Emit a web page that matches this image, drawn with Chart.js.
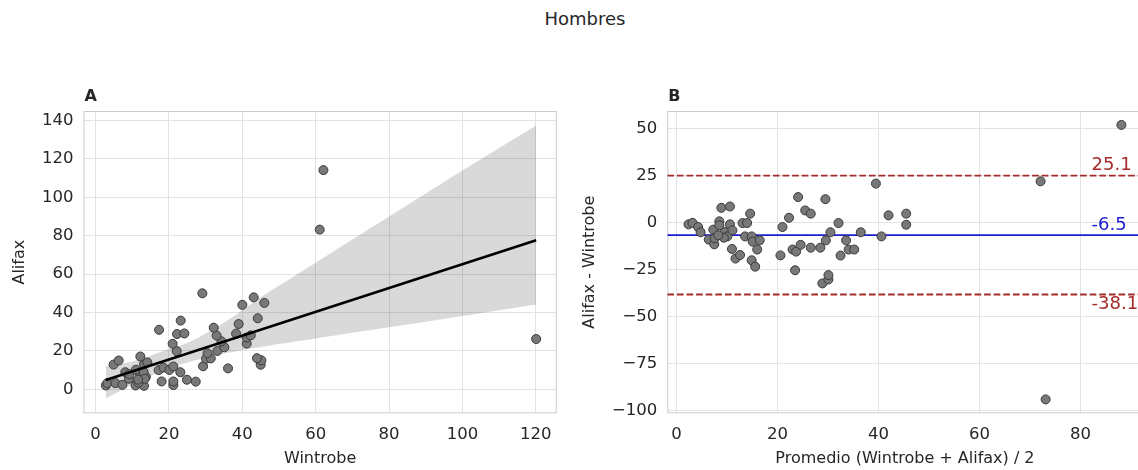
<!DOCTYPE html>
<html>
<head>
<meta charset="utf-8">
<script src="https://cdn.jsdelivr.net/npm/chart.js@4.4.1/dist/chart.umd.min.js"></script>
<style>
  html, body { margin: 0; padding: 0; background: #fff; overflow: hidden; width: 1138px; height: 470px; }
  #suptitle { position: absolute; left: 0; top: 8px; width: 1170px; text-align: center;
              font: 18px "DejaVu Sans"; color: #262626; }
  .panel { position: absolute; top: 80px; }
</style>
</head>
<body>
<div id="suptitle">Hombres</div>
<div class="panel" style="left:0px"><canvas id="chartA" width="570" height="390"></canvas></div>
<div class="panel" style="left:570px"><canvas id="chartB" width="580" height="390"></canvas></div>
<script>
// panel A: Wintrobe vs Alifax
const wintrobe = [2.8, 3.2, 5.4, 7.3, 10.9, 13.2, 11.7, 9.1, 8.1, 9.2, 4.9, 6.3, 12.1, 13.7, 11.0, 13.1, 13.4, 11.6, 18.0, 21.2,
  21.2, 13.2, 14.1, 12.2, 17.2, 18.5, 20.1, 21.2, 23.1, 24.9, 27.3, 22.1, 29.3, 21.0, 30.1, 31.4, 30.5, 36.1, 17.3, 22.2,
  24.2, 33.2, 35.1, 23.2, 34.3, 33.0, 45.0, 45.2, 44.0, 32.2, 41.2, 38.3, 41.2, 42.3, 39.0, 29.1, 44.2, 40.0, 43.1, 46.0,
  61.1, 120.1, 62.1];
const alifax = [2.0, 3.2, 3.2, 2.3, 2.0, 1.8, 3.5, 5.5, 8.9, 7.9, 12.9, 15.0, 7.2, 6.5, 10.2, 9.1, 5.5, 5.0, 4.1, 2.2,
  4.1, 13.1, 14.0, 17.1, 10.0, 11.3, 10.1, 11.9, 8.9, 5.0, 4.0, 19.9, 12.0, 23.7, 15.9, 16.1, 18.8, 10.9, 31.0, 28.8,
  29.1, 20.0, 21.9, 35.8, 25.0, 28.0, 12.8, 15.1, 16.2, 32.1, 23.8, 29.0, 27.0, 28.1, 34.0, 50.0, 37.0, 44.0, 47.9, 45.0,
  83.2, 26.2, 114.2];

// regression line and confidence band
const fitX = [2.8, 120.1];
const fitY = [4.9, 77.7];
const bandX = [2.8, 10, 20, 26, 36, 45, 60, 80, 100, 120.1];
const bandUpper = [12, 14.5, 21, 25, 36, 48, 66, 90, 114, 137.5];
const bandLower = [-4.8, 2.5, 11, 14.5, 19, 22.1, 26.5, 32.3, 38.2, 44.2];

// panel B: Bland-Altman
const promedio = [2.4, 3.2, 4.3, 4.8, 6.4, 7.5, 7.6, 7.3, 8.5, 8.5, 8.9, 10.6, 9.6, 10.1, 10.6, 11.1, 9.4, 8.3, 11.0, 11.7,
  12.6, 13.1, 14.0, 14.6, 13.6, 14.9, 15.1, 16.5, 16.0, 14.9, 15.6, 21.0, 20.6, 22.3, 23.0, 23.7, 24.6, 23.5, 24.1, 25.5,
  26.6, 26.6, 28.5, 29.5, 29.6, 30.5, 28.9, 30.1, 30.1, 32.1, 32.5, 33.6, 34.1, 35.2, 36.5, 39.5, 40.6, 42.0, 45.5, 45.5,
  72.1, 73.1, 88.1];
const diferencia = [-0.8, 0.0, -2.2, -5.0, -8.9, -11.4, -8.2, -3.6, 0.8, -1.3, 8.0, 8.7, -4.9, -7.2, -0.8, -4.0, -7.9, -6.6, -13.9, -19.0,
  -17.1, -0.1, -0.1, 4.9, -7.2, -7.2, -10.0, -9.3, -14.2, -19.9, -23.3, -2.2, -17.3, 2.7, -14.2, -15.3, -11.7, -25.2, 13.7, 6.6,
  4.9, -13.2, -13.2, 12.6, -9.3, -5.0, -32.2, -30.1, -27.8, -0.1, -17.4, -9.3, -14.2, -14.2, -5.0, 20.9, -7.2, 4.0, 4.9, -1.0,
  22.1, -93.9, 52.1];
const limitValues = [25.1, -6.5, -38.1];
const limitLabels = ['25.1', '-6.5', '-38.1'];
const limitColors = ['#a52a2a', '#1c1cd0', '#a52a2a'];

const FONT = '"DejaVu Sans", sans-serif';
const INK = '#262626';

const frame = {
  id: 'frame',
  beforeDatasetsDraw(chart, args, opts) {
    const { ctx, chartArea: a } = chart;
    ctx.save();
    ctx.strokeStyle = '#cccccc';
    ctx.lineWidth = 1;
    ctx.strokeRect(a.left + 0.5, a.top + 0.5, a.width - 1, a.height - 1);
    ctx.fillStyle = INK;
    ctx.font = 'bold 16px ' + FONT;
    ctx.textBaseline = 'bottom';
    ctx.textAlign = 'left';
    ctx.fillText(opts.label, a.left + 1, a.top - 6);
    ctx.restore();
  }
};

const limitText = {
  id: 'limitText',
  afterDatasetsDraw(chart) {
    const { ctx, scales } = chart;
    ctx.save();
    ctx.font = '18px ' + FONT;
    ctx.textAlign = 'left';
    limitValues.forEach((v, i) => {
      const x = scales.x.getPixelForValue(82.2);
      const y = scales.y.getPixelForValue(v);
      ctx.fillStyle = limitColors[i];
      if (i === 2) { ctx.textBaseline = 'top'; ctx.fillText(limitLabels[i], x, y + 1); }
      else { ctx.textBaseline = 'bottom'; ctx.fillText(limitLabels[i], x, y - 1); }
    });
    ctx.restore();
  }
};

function axis(min, max, step, title, fitSize, horizontal, fmt) {
  return {
    type: 'linear', min: min, max: max,
    ticks: {
      stepSize: step, includeBounds: false, color: INK, padding: horizontal ? 12 : 10,
      font: { family: FONT, size: 16.5 },
      callback: fmt || (v => String(v))
    },
    grid: { color: '#e3e3e3', lineWidth: 1, drawTicks: false },
    border: { display: false },
    title: { display: true, text: title, color: INK, font: { family: FONT, size: 16 },
             padding: horizontal ? { top: 0, bottom: 2 } : { top: 10, bottom: 0 } },
    afterFit(scale) { if (horizontal) scale.height = fitSize; else scale.width = fitSize; }
  };
}

const pointStyle = {
  type: 'scatter', showLine: false, pointRadius: 4.5, pointHoverRadius: 4.5,
  backgroundColor: '#787878', borderColor: '#3a3a3a', pointBorderWidth: 1, order: 1
};

new Chart(document.getElementById('chartA'), {
  type: 'scatter',
  data: {
    datasets: [
      Object.assign({}, pointStyle, { data: wintrobe.map((w, i) => ({ x: w, y: alifax[i] })) }),
      { type: 'line', data: fitX.map((x, i) => ({ x: x, y: fitY[i] })), borderColor: '#000', borderWidth: 2.6,
        pointRadius: 0, order: 0 },
      { type: 'line', data: bandX.map((x, i) => ({ x: x, y: bandUpper[i] })), borderWidth: 0, pointRadius: 0,
        fill: '+1', backgroundColor: 'rgba(0,0,0,0.15)', tension: 0.3, order: 2 },
      { type: 'line', data: bandX.map((x, i) => ({ x: x, y: bandLower[i] })), borderWidth: 0, pointRadius: 0,
        fill: false, tension: 0.3, order: 3 }
    ]
  },
  options: {
    responsive: false, animation: false, events: [],
    layout: { padding: { top: 31, right: 13.3, left: 0, bottom: 0 } },
    plugins: { legend: { display: false }, tooltip: { enabled: false }, frame: { label: 'A' } },
    scales: {
      x: axis(-3.3, 125.7, 20, 'Wintrobe', 56.7, true),
      y: axis(-12.5, 145, 20, 'Alifax', 83.5, false)
    }
  },
  plugins: [frame]
});

const minus = v => (v < 0 ? '\u2212' + Math.abs(v) : String(v));

new Chart(document.getElementById('chartB'), {
  type: 'scatter',
  data: {
    datasets: [
      Object.assign({}, pointStyle, { data: promedio.map((m, i) => ({ x: m, y: diferencia[i] })) }),
      ...limitValues.map((v, i) => ({
        type: 'line', data: [{ x: -1.8, y: v }, { x: 92.3, y: v }], borderColor: limitColors[i],
        borderWidth: i === 1 ? 1.9 : 1.8, borderDash: i === 1 ? [] : [6.7, 2.9], pointRadius: 0, order: 2
      }))
    ]
  },
  options: {
    responsive: false, animation: false, events: [],
    layout: { padding: { top: 31, right: 7.4, left: 0, bottom: 0 } },
    plugins: { legend: { display: false }, tooltip: { enabled: false }, frame: { label: 'B' } },
    scales: {
      x: axis(-1.8, 92.3, 20, 'Promedio (Wintrobe + Alifax) / 2', 56.7, true),
      y: axis(-101.3, 59.5, 25, 'Alifax - Wintrobe', 97.3, false, minus)
    }
  },
  plugins: [frame, limitText]
});
</script>
</body>
</html>
